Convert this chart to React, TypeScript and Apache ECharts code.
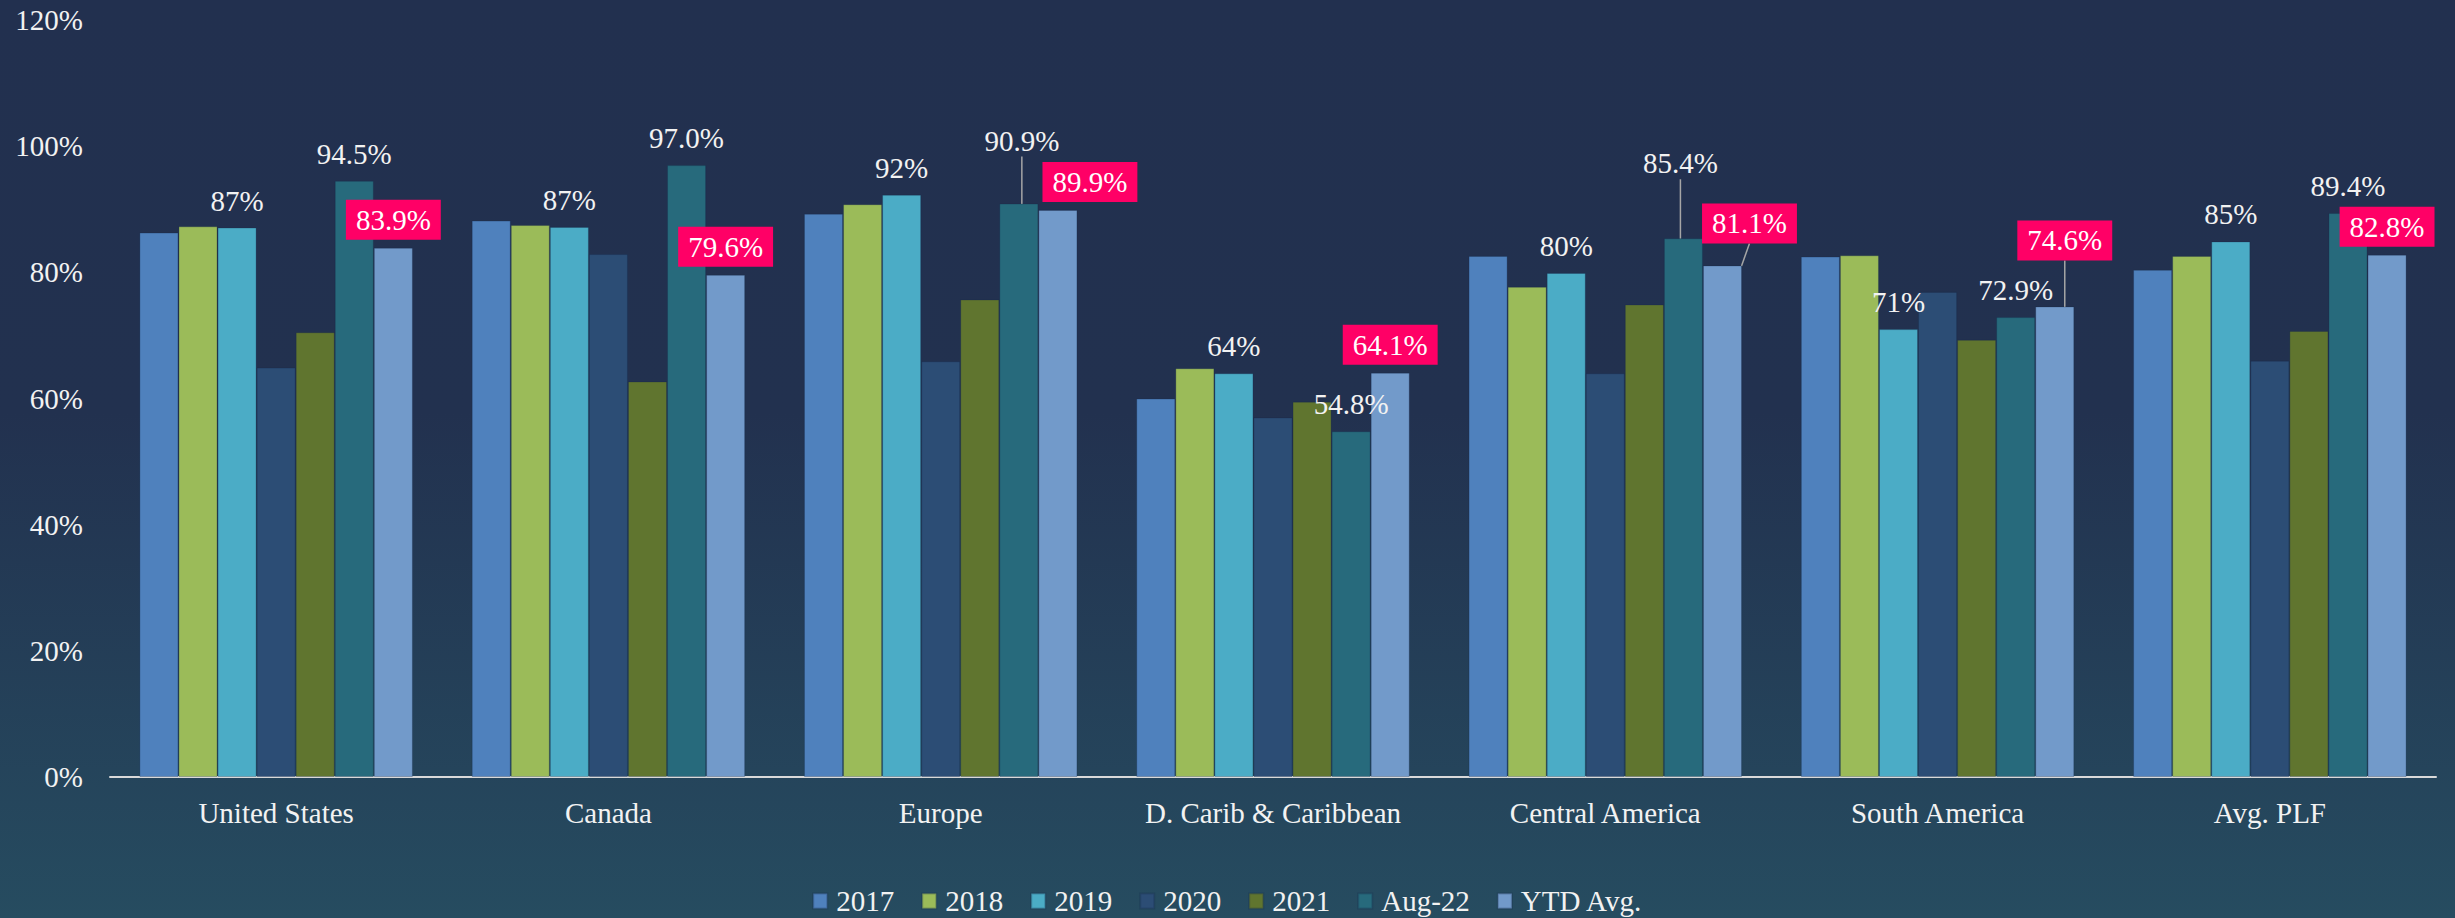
import React, { useEffect, useRef } from "react";
import * as echarts from "echarts";

const categories = [
  "United States",
  "Canada",
  "Europe",
  "D. Carib & Caribbean",
  "Central America",
  "South America",
  "Avg. PLF",
];
const seriesNames = ["2017", "2018", "2019", "2020", "2021", "Aug-22", "YTD Avg."];
const v2017 = [86.3, 88.2, 89.3, 60.0, 82.6, 82.5, 80.4];
const v2018 = [87.3, 87.5, 90.8, 64.8, 77.7, 82.7, 82.6];
const v2019 = [87.1, 87.2, 92.3, 64.0, 79.9, 71.0, 84.9];
const v2020 = [64.9, 82.9, 65.9, 57.0, 64.0, 76.9, 66.0];
const v2021 = [70.5, 62.7, 75.7, 59.5, 74.9, 69.3, 70.7];
const vAug22 = [94.5, 97.0, 90.9, 54.8, 85.4, 72.9, 89.4];
const vYtd = [83.9, 79.6, 89.9, 64.1, 81.1, 74.6, 82.8];
const yMin = 0;
const yMax = 120;
const yStep = 20;

const colors = ["#4f81bd", "#9bbb59", "#4bacc6", "#2c4d75", "#60752f", "#276a7c", "#729aca"];
const FONT = "'Liberation Serif', 'DejaVu Serif', serif";

// label placement tweaks (dataIndex -> [dx, dy]) and leader-line flags
const augShift: Record<number, [number, number]> = { 2: [3, -36], 4: [-3, -48] };
const ytdShift: Record<number, [number, number]> = { 2: [32, 0], 4: [27, -14], 5: [10, -38] };
const augLines = [2, 4];
const ytdLines = [4, 5];

export default function App() {
  const ref = useRef<HTMLDivElement>(null);
  useEffect(() => {
    if (!ref.current) return;
    const chart = echarts.init(ref.current, null, { renderer: "svg" });
    const all = [v2017, v2018, v2019, v2020, v2021, vAug22, vYtd];
    const leader = { show: true, lineStyle: { color: "#a6a6a6", width: 1.5 } };

    const series: any[] = all.map((vals, i) => {
      const s: any = {
        name: seriesNames[i],
        type: "bar",
        barGap: "0%",
        barCategoryGap: "17.7%",
        itemStyle: { color: colors[i], borderColor: "rgba(20,40,70,0.25)", borderWidth: 1 },
        data: vals.map((v) => ({ value: v })),
        label: { show: false },
        labelLine: { show: false },
      };
      if (i === 2) {
        s.label = {
          show: true,
          position: "top",
          distance: 11,
          color: "#f2f2f2",
          fontFamily: FONT,
          fontSize: 29,
          lineHeight: 32,
          formatter: (p: any) => `${Math.round(p.value)}%`,
        };
      }
      if (i === 5) {
        s.label = {
          show: true,
          position: "top",
          distance: 11,
          color: "#f2f2f2",
          fontFamily: FONT,
          fontSize: 29,
          lineHeight: 32,
          formatter: (p: any) => `${Number(p.value).toFixed(1)}%`,
        };
        s.data = vals.map((v, j) => (augLines.includes(j) ? { value: v, labelLine: leader } : { value: v }));
        s.labelLayout = (p: any) => {
          const sh = augShift[p.dataIndex];
          return sh ? { dx: sh[0], dy: sh[1] } : {};
        };
      }
      if (i === 6) {
        s.label = {
          show: true,
          position: "top",
          distance: 8,
          color: "#ffffff",
          backgroundColor: "#ff0066",
          padding: [4, 10, 4, 10],
          fontFamily: FONT,
          fontSize: 29,
          lineHeight: 32,
          formatter: (p: any) => `${Number(p.value).toFixed(1)}%`,
        };
        s.data = vals.map((v, j) => (ytdLines.includes(j) ? { value: v, labelLine: leader } : { value: v }));
        s.labelLayout = (p: any) => {
          const sh = ytdShift[p.dataIndex];
          return sh ? { dx: sh[0], dy: sh[1] } : {};
        };
      }
      return s;
    });

    chart.setOption({
      animation: false,
      backgroundColor: {
        type: "linear",
        x: 0,
        y: 0,
        x2: 0,
        y2: 1,
        colorStops: [
          { offset: 0, color: "#22304f" },
          { offset: 0.45, color: "#22314f" },
          { offset: 1, color: "#264c60" },
        ],
      },
      color: colors,
      grid: { left: 110, right: 19, top: 20, bottom: 141, outerBoundsMode: "none" },
      legend: {
        top: 885,
        left: "center",
        padding: 0,
        icon: "rect",
        itemWidth: 14,
        itemHeight: 15,
        itemGap: 27,
        textStyle: { color: "#f2f2f2", fontFamily: FONT, fontSize: 29, lineHeight: 32, padding: [0, 0, 0, 4] },
        data: seriesNames,
      },
      xAxis: {
        type: "category",
        data: categories,
        axisLine: { show: true, lineStyle: { color: "#d9d9d9", width: 2 } },
        axisTick: { show: false },
        axisLabel: { interval: 0, color: "#f2f2f2", fontFamily: FONT, fontSize: 29, lineHeight: 32, margin: 20 },
        splitLine: { show: false },
      },
      yAxis: {
        type: "value",
        min: yMin,
        max: yMax,
        interval: yStep,
        axisLine: { show: false },
        axisTick: { show: false },
        splitLine: { show: false },
        axisLabel: {
          color: "#f2f2f2",
          fontFamily: FONT,
          fontSize: 29,
          margin: 27,
          formatter: (v: number) => `${v}%`,
        },
      },
      series,
    });
    return () => chart.dispose();
  }, []);
  return (
    <div
      ref={ref}
      style={{ position: "fixed", left: 0, top: 0, width: 2455, height: 918 }}
    />
  );
}
